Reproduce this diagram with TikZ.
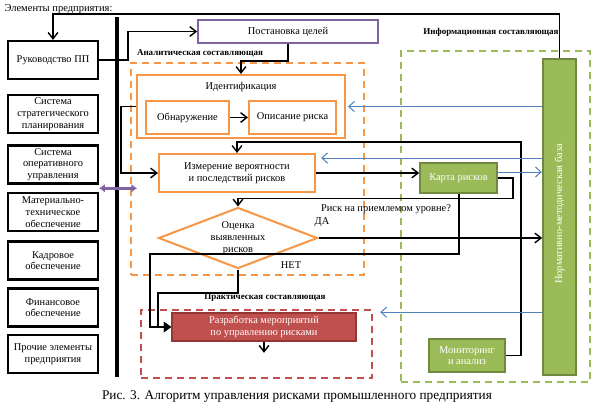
\documentclass[tikz,border=0pt]{standalone}
\usepackage{fontspec}
\setmainfont{Liberation Serif}
\usepackage{tikz}
\usetikzlibrary{arrows.meta,positioning,calc,shapes.geometric}
\definecolor{orangeC}{HTML}{F79646}
\definecolor{purpleC}{HTML}{8064A2}
\definecolor{greenC}{HTML}{9BBB59}
\definecolor{greenD}{HTML}{71893F}
\definecolor{redC}{HTML}{C0504D}
\definecolor{redD}{HTML}{943634}
\definecolor{blueC}{HTML}{4F81BD}

\begin{document}
\begin{tikzpicture}[
      x=1pt, y=-1pt,
      font=\fontsize{10.4}{11.7}\selectfont,
      elem/.style={draw, line width=2.2pt, align=center, minimum width=90pt,
                   minimum height=38pt, inner sep=1pt},
      obox/.style={draw=orangeC, line width=2pt, align=center, inner sep=1pt},
      gbox/.style={draw=greenD, fill=greenC, line width=1.6pt, text=white,
                   align=center, inner sep=1pt},
      zone/.style={line width=2pt, dash pattern=on 7pt off 5pt},
      lbl/.style={font=\fontsize{9}{10}\selectfont\bfseries},
      arr/.style={-{Straight Barb[length=2.2mm,width=3.4mm]}, line width=1.4pt},
      tarr/.style={-{Triangle[length=2.6mm,width=3.6mm]}, line width=2pt},
      barr/.style={-{Straight Barb[length=2mm,width=3.6mm]}, draw=blueC, line width=1pt},
      parr/.style={{Latex[length=2mm,width=3mm]}-{Latex[length=2mm,width=3mm]},
                   draw=purpleC, line width=3pt}
    ]
    \useasboundingbox (0,0) rectangle (595,408);
    % zones
    \node[zone, draw=orangeC, minimum width=233pt, minimum height=212pt] (anal) at (247.5,169) {};
    \node[zone, draw=redC, minimum width=231pt, minimum height=68pt] (prakt) at (256.5,344) {};
    \node[zone, draw=greenC, minimum width=189pt, minimum height=331pt] (info) at (495.5,216.5) {};
    \node[lbl] (analL) at (200,53) {Аналитическая составляющая};
    \node[lbl] (infoL) at (491,32) {Информационная составляющая};
    \node[lbl] (praktL) at (265,298) {Практическая составляющая};
    % enterprise elements
    \node[anchor=west, font=\fontsize{10.5}{12}\selectfont] (elems) at (1,9) {Элементы предприятия:};
    \node[elem] (ruk)   at (53,60)    {Руководство ПП};
    \node[elem] (strat) at (53,114)   {Система\\стратегического\\планирования};
    \node[elem] (oper)  at (53,164.5) {Система\\оперативного\\управления};
    \node[elem] (mat)   at (53,212)   {Материально-\\техническое\\обеспечение};
    \node[elem] (kadr)  at (53,260.5) {Кадровое\\обеспечение};
    \node[elem] (fin)   at (53,307.5) {Финансовое\\обеспечение};
    \node[elem] (proch) at (53,354)   {Прочие элементы\\предприятия};
    \coordinate (busT) at (117,17);
    \coordinate (busB) at (117,377);
    \coordinate (top)  at (300,14);
    \draw[line width=3.5pt] (busT) -- (busB);
    % main blocks
    \node[draw=purpleC, line width=1.6pt, minimum width=180pt, minimum height=23pt] (post) at (288,31.5) {Постановка целей};
    \node[obox, minimum width=208pt, minimum height=63pt,
          label={[below=5pt]north:Идентификация}] (ident) at (241,106.5) {};
    \node[obox, minimum width=83pt, minimum height=33pt] (obn)  at (187.5,117.5) {Обнаружение};
    \node[obox, minimum width=87pt, minimum height=33pt] (opis) at (292.5,117.5) {Описание риска};
    \node[obox, minimum width=156pt, minimum height=38pt] (izm) at (237,173) {Измерение вероятности\\и последствий рисков};
    \node[obox, shape=diamond, aspect=2.6, inner sep=0pt, minimum width=159pt,
          minimum height=61pt] (ocen) at (238,238) {Оценка\\выявленных\\рисков};
    \node[gbox, minimum width=77pt, minimum height=30pt] (karta) at (458.5,178) {Карта рисков};
    \node[gbox, minimum width=76pt, minimum height=33pt] (mon) at (467,355.5) {Мониторинг\\и анализ};
    \node[gbox, minimum width=33pt, minimum height=316pt] (base) at (559.5,217) {};
    \node[rotate=90, text=white] (baseT) at (559.5,214) {Нормативно-методическая база};
    \node[draw=redD, fill=redC, line width=1.6pt, text=white, align=center, inner sep=1pt,
          minimum width=184pt, minimum height=28pt] (razr) at (264,327) {Разработка мероприятий\\по управлению рисками};
    \node (q)   at (386,209) {Риск на приемлемом уровне?};
    \node (yes) at (322,222) {ДА};
    \node (no)  at (291,265) {НЕТ};
    % connectors
    \draw[arr] (base.north) |- (top) -| (ruk.north);
    \draw[arr] (ruk.east) -- ++(29,0) |- (post.west);
    \draw[arr] (post.south) -- ++(0,17) -| (ident.north);
    \draw[arr] (obn) -- (opis);
    \draw[arr] (ident.west) -- ++(-15,0) |- (izm.west);
    \draw[arr] (mon.east) -- ++(15,0) |- ([yshift=11pt]izm.north) -- (izm.north);
    \draw[arr] (izm.east) -- (izm.east -| karta.west);
    \draw[arr] (karta.east) -- ++(15,0) |- ([yshift=8pt]ocen.north) -- (ocen.north);
    \draw[arr] (ocen.east) -- (ocen.east -| base.west);
    \draw[tarr] (karta.south) -- ++(0,60) -| ([xshift=-21pt]razr.west) -- (razr.west);
    \draw[tarr] (ocen.south) -- ++(0,23.5) -| ([xshift=-13pt]razr.west) -- (razr.west);
    \draw[arr] (razr.south) -- ++(0,11);
    % information flows
    \draw[barr] (ident.east -| base.west) -- ([xshift=2pt]ident.east);
    \draw[barr] (izm.east -| base.west) ++(0,-15) -- ++(-221,0);
    \draw[barr] (karta.east) ++(0,-6) -- ++(44,0);
    \draw[barr] (base.west |- razr.north) -- ++(-162,0);
    \draw[parr] ($(oper.south east)!.5!(mat.north east)$) -- ++(38,0);
    \node[font=\fontsize{13.3}{15}\selectfont] (cap) at (297,397) {Рис. 3. Алгоритм управления рисками промышленного предприятия};
  \end{tikzpicture}
\end{document}
